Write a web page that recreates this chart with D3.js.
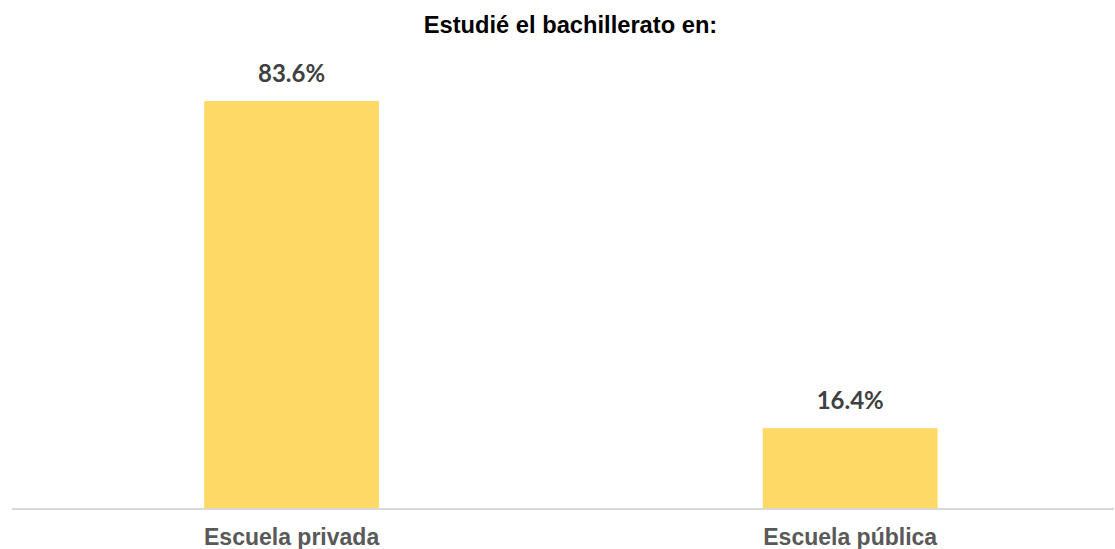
<!DOCTYPE html>
<html><head><meta charset="utf-8">
<script src="https://cdn.jsdelivr.net/npm/d3@7"></script>
<style>body{margin:0;background:#fff}svg{display:block}</style>
</head><body>
<svg id="chart" width="1115" height="549"></svg>
<script>
const title = "Estudié el bachillerato en:";
const categories = ["Escuela privada", "Escuela pública"];
const values = [83.6, 16.4];
const valueLabels = ["83.6%", "16.4%"];

const svg = d3.select("#chart");
const x = d3.scaleBand().domain(categories).range([12.3, 1129.5]).paddingInner(0.687).paddingOuter(0.3435);
const y = d3.scaleLinear().domain([0, 83.6]).range([508, 101]);

svg.append("text").attr("x", 570.5).attr("y", 33).attr("text-anchor", "middle")
  .attr("font-family", "Liberation Sans, Arial, sans-serif").attr("font-weight", "bold")
  .attr("font-size", 23.7).attr("fill", "#000").text(title);

svg.selectAll("rect.bar").data(values).join("rect").attr("class", "bar")
  .attr("x", (d, i) => x(categories[i])).attr("width", x.bandwidth())
  .attr("y", d => y(d)).attr("height", d => y(0) - y(d)).attr("fill", "#FFD966");

svg.selectAll("text.val").data(values).join("text").attr("class", "val")
  .attr("x", (d, i) => x(categories[i]) + x.bandwidth() / 2).attr("y", d => y(d) - 19)
  .attr("text-anchor", "middle").attr("font-family", "Lato, Carlito, sans-serif")
  .attr("font-weight", "bold").attr("font-size", 24).attr("fill", "#404040")
  .text((d, i) => valueLabels[i]);

svg.append("line").attr("x1", 12).attr("x2", 1114).attr("y1", 509).attr("y2", 509)
  .attr("stroke", "#D9D9D9").attr("stroke-width", 2);

const xAxis = d3.axisBottom(x).tickSize(0).tickPadding(0);
const g = svg.append("g").attr("transform", "translate(0,509)").call(xAxis);
g.select(".domain").remove();
g.selectAll("text").attr("y", 36).attr("dy", 0)
  .attr("font-family", "Liberation Sans, Arial, sans-serif").attr("font-weight", "bold")
  .attr("font-size", 23).attr("fill", "#595959");
</script>
</body></html>
